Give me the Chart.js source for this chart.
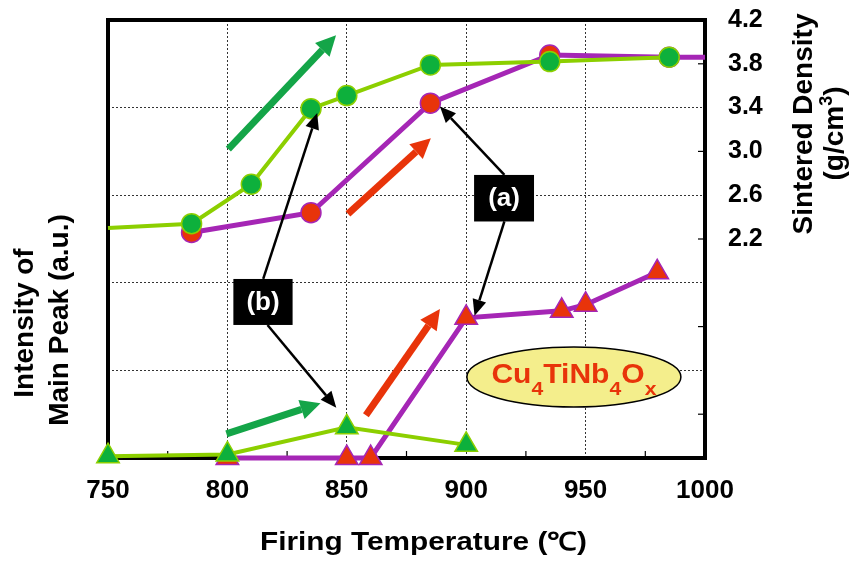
<!DOCTYPE html>
<html>
<head>
<meta charset="utf-8">
<script src="https://cdn.jsdelivr.net/npm/chart.js@4.4.1/dist/chart.umd.min.js"></script>
<style>
body { margin: 0; background: #fff; }
#box { width: 853px; height: 567px; }
</style>
</head>
<body>
<div id="box"><canvas id="chart"></canvas></div>
<script>
// firing temperature vs. sintered density and main XRD peak, Cu4TiNb4Ox

const temp_ticks = [750, 775, 800, 825, 850, 875, 900, 925, 950, 975, 1000]
const density_ticks = [0.2, 0.6, 1.0, 1.4, 1.8, 2.2, 2.6, 3.0, 3.4, 3.8, 4.2]

// sintered density (g/cm3)
const temp_dens_b = [750, 785, 810, 835, 850, 885, 935, 985]
const dens_b = [2.30, 2.34, 2.70, 3.39, 3.51, 3.79, 3.82, 3.86]
const temp_dens_a = [785, 835, 885, 935, 985, 1000]
const dens_a = [2.26, 2.44, 3.44, 3.88, 3.86, 3.86]

// intensity of main peak (a.u.)
const temp_peak_b = [750, 800, 850, 900]
const peak_b = [0.02, 0.04, 0.35, 0.15]
const temp_peak_a = [800, 850, 860, 900, 940, 950, 980]
const peak_a = [0, 0, 0, 1.60, 1.68, 1.75, 2.12]

// trend arrows [temp, density] -> [temp, density]
const arrows_green = [[800.4, 3.02, 845.5, 4.06], [799.6, 0.42, 839, 0.70]]
const arrows_red = [[850.5, 2.43, 885.2, 3.12], [858, 0.59, 889, 1.56]]

// (a) (b) callouts
const callouts = [
	{text: '(a)', box: [903.3, 2.785, 928.4, 2.36],
		to: [[916, 2.785, 889, 3.41], [916, 2.36, 903.5, 1.50]]},
	{text: '(b)', box: [802.5, 1.835, 827.3, 1.415],
		to: [[815, 1.835, 837.6, 3.35], [816.8, 1.415, 845.6, 0.66]]}
]
const formula_at = [945.1, 0.94]

const FONT = '"Liberation Sans", Arial, sans-serif'
const GREEN = '#0db03c'
const LIME = '#8ccf00'
const PURPLE = '#a526b5'
const RED = '#e8340a'

// ----------------------------------------------------------------------
function pts (xs, ys)
{
	return xs.map((x, i) => ({x: x, y: ys[i]}))
}

function arrow (ctx, x1, y1, x2, y2, color, w, hl, hw)
{
	const ang = Math.atan2(y2 - y1, x2 - x1)
	const bx = x2 - Math.cos(ang) * hl
	const by = y2 - Math.sin(ang) * hl
	ctx.strokeStyle = color
	ctx.fillStyle = color
	ctx.lineWidth = w
	ctx.lineCap = 'butt'
	ctx.beginPath()
	ctx.moveTo(x1, y1)
	ctx.lineTo(bx, by)
	ctx.stroke()
	ctx.beginPath()
	ctx.moveTo(x2, y2)
	ctx.lineTo(bx + Math.sin(ang) * hw, by - Math.cos(ang) * hw)
	ctx.lineTo(bx - Math.sin(ang) * hw, by + Math.cos(ang) * hw)
	ctx.closePath()
	ctx.fill()
}

function fit_text (ctx, str, x, y, w)
{
	const m = ctx.measureText(str).width
	ctx.save()
	ctx.translate(x, y)
	ctx.scale(w / m, 1)
	ctx.fillText(str, 0, 0)
	ctx.restore()
}

// ----------------------------------------------------------------------
const decor = {
	id: 'decor',
	beforeDatasetsDraw (chart)
	{
		const ctx = chart.ctx
		const a = chart.chartArea
		const sx = chart.scales.x
		const sy = chart.scales.yD
		ctx.save()
		ctx.strokeStyle = '#000'
		ctx.lineWidth = 1.2
		temp_ticks.forEach(v => {
			if (v % 50 !== 0) {
				const px = sx.getPixelForValue(v)
				ctx.beginPath()
				ctx.moveTo(px, a.bottom)
				ctx.lineTo(px, a.bottom - 7)
				ctx.stroke()
			}
		})
		density_ticks.forEach((v, i) => {
			if (i % 2 === 1) {
				const py = sy.getPixelForValue(v)
				ctx.beginPath()
				ctx.moveTo(a.right, py)
				ctx.lineTo(a.right - 7, py)
				ctx.stroke()
			}
		})
		ctx.lineWidth = 4
		ctx.strokeRect(a.left, a.top, a.right - a.left, a.bottom - a.top)
		ctx.restore()
	},

	afterDatasetsDraw (chart)
	{
		const ctx = chart.ctx
		const sx = chart.scales.x
		const sy = chart.scales.yD
		const X = v => sx.getPixelForValue(v)
		const Y = v => sy.getPixelForValue(v)
		ctx.save()

		arrows_green.forEach(r => arrow(ctx, X(r[0]), Y(r[1]), X(r[2]), Y(r[3]), '#14a548', 7, 20, 10))
		arrows_red.forEach(r => arrow(ctx, X(r[0]), Y(r[1]), X(r[2]), Y(r[3]), RED, 7, 20, 10))

		callouts.forEach(c => {
			c.to.forEach(r => arrow(ctx, X(r[0]), Y(r[1]), X(r[2]), Y(r[3]), '#000', 2.5, 16, 7))
			const x1 = X(c.box[0]), y1 = Y(c.box[1]), x2 = X(c.box[2]), y2 = Y(c.box[3])
			ctx.fillStyle = '#000'
			ctx.fillRect(x1, y1, x2 - x1, y2 - y1)
			ctx.fillStyle = '#fff'
			ctx.font = 'bold 26px ' + FONT
			ctx.textAlign = 'center'
			ctx.textBaseline = 'middle'
			ctx.fillText(c.text, (x1 + x2) / 2, (y1 + y2) / 2 + 1)
		})

		// formula label
		const cx = X(formula_at[0]), cy = Y(formula_at[1])
		ctx.beginPath()
		ctx.ellipse(cx, cy, 107, 30, 0, 0, Math.PI * 2)
		ctx.fillStyle = '#f4ee8c'
		ctx.fill()
		ctx.lineWidth = 1.5
		ctx.strokeStyle = '#000'
		ctx.stroke()

		const parts = [['Cu', 0], ['4', 1], ['TiNb', 0], ['4', 1], ['O', 0], ['x', 1]]
		const fonts = ['bold 27px ' + FONT, 'bold 19px ' + FONT]
		let total = 0
		parts.forEach(p => { ctx.font = fonts[p[1]]; total += ctx.measureText(p[0]).width })
		const k = 165 / total
		ctx.save()
		ctx.translate(cx - 165 / 2, cy)
		ctx.scale(k, 1)
		ctx.fillStyle = RED
		ctx.textAlign = 'left'
		ctx.textBaseline = 'alphabetic'
		let px = 0
		parts.forEach(p => {
			ctx.font = fonts[p[1]]
			ctx.fillText(p[0], px, p[1] ? 18.5 : 6.5)
			px += ctx.measureText(p[0]).width
		})
		ctx.restore()
		ctx.restore()
	},

	afterDraw (chart)
	{
		const ctx = chart.ctx
		ctx.save()
		ctx.fillStyle = '#000'
		ctx.textBaseline = 'alphabetic'
		ctx.textAlign = 'center'

		ctx.font = 'bold 25px ' + FONT
		fit_text(ctx, 'Firing Temperature (℃)', 423.5, 550, 327)

		ctx.font = 'bold 28px ' + FONT
		const lines = [['Intensity of', 33, 323], ['Main Peak (a.u.)', 68, 320]]
		lines.forEach(l => {
			ctx.save()
			ctx.translate(l[1], l[2])
			ctx.rotate(-Math.PI / 2)
			ctx.fillText(l[0], 0, 0)
			ctx.restore()
		})

		ctx.save()
		ctx.translate(812, 124)
		ctx.rotate(-Math.PI / 2)
		ctx.fillText('Sintered Density', 0, 0)
		ctx.restore()

		// (g/cm3) with superscript
		ctx.save()
		ctx.translate(843, 133.5)
		ctx.rotate(-Math.PI / 2)
		ctx.textAlign = 'left'
		const big = 'bold 28px ' + FONT
		const small = 'bold 18px ' + FONT
		ctx.font = big
		const w1 = ctx.measureText('(g/cm').width
		const w3 = ctx.measureText(')').width
		ctx.font = small
		const w2 = ctx.measureText('3').width
		let x0 = -(w1 + w2 + w3) / 2
		ctx.font = big
		ctx.fillText('(g/cm', x0, 0)
		ctx.font = small
		ctx.fillText('3', x0 + w1, -11)
		ctx.font = big
		ctx.fillText(')', x0 + w1 + w2, 0)
		ctx.restore()

		ctx.restore()
	}
}

// ----------------------------------------------------------------------
const circle_r = c => (c.raw && (c.raw.x === 750 || c.raw.x === 1000)) ? 0 : 10
const grid_x = [800, 850, 900, 950]
const grid_y = [1.0, 1.8, 2.6, 3.4]

const config = {
	type: 'line',
	data: {
		datasets: [
			{label: '(b) density', data: pts(temp_dens_b, dens_b), yAxisID: 'yD',
				borderColor: LIME, borderWidth: 4, pointRadius: circle_r,
				pointBackgroundColor: GREEN, pointBorderColor: LIME, pointBorderWidth: 1.5, clip: false},
			{label: '(b) peak', data: pts(temp_peak_b, peak_b), yAxisID: 'yI',
				borderColor: LIME, borderWidth: 4, pointStyle: 'triangle', pointRadius: 13,
				pointBackgroundColor: GREEN, pointBorderColor: LIME, pointBorderWidth: 1.5, clip: false},
			{label: '(a) density', data: pts(temp_dens_a, dens_a), yAxisID: 'yD',
				borderColor: PURPLE, borderWidth: 5, pointRadius: circle_r,
				pointBackgroundColor: RED, pointBorderColor: PURPLE, pointBorderWidth: 1.5, clip: false},
			{label: '(a) peak', data: pts(temp_peak_a, peak_a), yAxisID: 'yI',
				borderColor: PURPLE, borderWidth: 5, pointStyle: 'triangle', pointRadius: 13,
				pointBackgroundColor: RED, pointBorderColor: PURPLE, pointBorderWidth: 1.5, clip: false}
		]
	},
	options: {
		responsive: true,
		maintainAspectRatio: false,
		animation: false,
		events: [],
		layout: {padding: {left: 108, top: 20, right: 0, bottom: 0}},
		elements: {line: {tension: 0}},
		plugins: {legend: {display: false}, tooltip: {enabled: false}},
		scales: {
			x: {
				type: 'linear', min: 750, max: 1000,
				afterBuildTicks: s => { s.ticks = temp_ticks.map(v => ({value: v})) },
				afterFit: s => { s.height = 109 },
				ticks: {autoSkip: false, maxRotation: 0, padding: 17, color: '#000',
					font: {family: FONT, size: 26, weight: 'bold'},
					callback: v => (v % 50 === 0) ? String(v) : ''},
				grid: {drawTicks: false, lineWidth: 1,
					color: c => (c.tick && grid_x.includes(c.tick.value)) ? '#333' : 'rgba(0,0,0,0)'},
				border: {display: false, dash: [2, 2]}
			},
			yI: {type: 'linear', position: 'left', min: 0, max: 5, display: false},
			yD: {
				type: 'linear', position: 'right', min: 0.2, max: 4.2,
				afterBuildTicks: s => { s.ticks = density_ticks.map(v => ({value: v})) },
				afterFit: s => { s.width = 148 },
				ticks: {autoSkip: false, padding: 0, color: '#000',
					font: {family: FONT, size: 25, weight: 'bold'},
					callback: v => (v > 2.15) ? v.toFixed(1) : ''},
				grid: {drawTicks: true, tickLength: 23, tickColor: 'rgba(0,0,0,0)', lineWidth: 1,
					color: c => (c.tick && grid_y.some(g => Math.abs(g - c.tick.value) < 1e-6)) ? '#333' : 'rgba(0,0,0,0)'},
				border: {display: false, dash: [2, 2]}
			}
		}
	},
	plugins: [decor]
}

const chart = new Chart(document.getElementById('chart'), config)
</script>
</body>
</html>
